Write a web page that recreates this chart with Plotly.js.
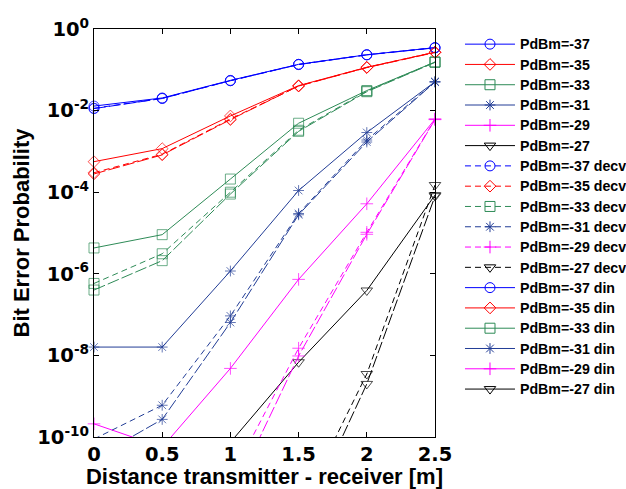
<!DOCTYPE html>
<html>
<head>
<meta charset="utf-8">
<script src="https://cdn.plot.ly/plotly-3.0.1.min.js"></script>
<style>html,body{margin:0;padding:0;background:#fff;}</style>
</head>
<body>
<div id="chart" style="width:626px;height:489px;"></div>
<script>
// ---- data ----
const distance = [0, 0.5, 1, 1.5, 2, 2.5];

const ber37 = [0.0129, 0.0204, 0.055, 0.136, 0.234, 0.349];
const ber35 = [5.6e-4, 1.17e-3, 7.4e-3, 0.041, 0.115, 0.27];
const ber33 = [4.3e-6, 9.1e-6, 2.1e-4, 4.9e-3, 0.031, 0.155];
const ber31 = [1.6e-8, 1.6e-8, 1.17e-6, 1.1e-4, 2.9e-3, 0.051];
const ber29 = [2.1e-10, 5.6e-11, 4.8e-9, 7.3e-7, 5.2e-5, 6.2e-3];
const ber27 = [null, null, 7.4e-11, 6.8e-9, 3.9e-7, 8.5e-5];

const ber37decv = [0.0114, 0.0200, 0.054, 0.136, 0.234, 0.349];
const ber35decv = [3.0e-4, 8.5e-4, 6.2e-3, 0.040, 0.115, 0.27];
const ber33decv = [5.8e-7, 3.1e-6, 1.0e-4, 3.3e-3, 0.030, 0.155];
const ber31decv = [8.9e-11, 6.0e-10, 9.3e-8, 3.0e-5, 1.9e-3, 0.051];
const ber29decv = [null, null, 9.3e-12, 1.5e-8, 1.04e-5, 6.2e-3];
const ber27decv = [null, null, null, 1.4e-12, 3.5e-9, 1.5e-4];

const ber37din = [0.0112, 0.0198, 0.054, 0.134, 0.232, 0.345];
const ber35din = [2.8e-4, 8.2e-4, 6.0e-3, 0.040, 0.113, 0.265];
const ber33din = [4.0e-7, 2.1e-6, 9.0e-5, 3.1e-3, 0.029, 0.152];
const ber31din = [3.0e-11, 2.7e-10, 6.4e-8, 2.8e-5, 1.7e-3, 0.050];
const ber29din = [null, null, 3.0e-12, 9.7e-9, 9.3e-6, 6.0e-3];
const ber27din = [null, null, null, 4.9e-13, 2.0e-9, 8.0e-5];

const seriesNames = ['PdBm=-37', 'PdBm=-35', 'PdBm=-33', 'PdBm=-31', 'PdBm=-29', 'PdBm=-27'];

const xTickVals = [0, 0.5, 1, 1.5, 2, 2.5];
const xTickText = ['0', '0.5', '1', '1.5', '2', '2.5'];
const yTickVals = [1e-10, 1e-8, 1e-6, 1e-4, 1e-2, 1];
const yTickText = ['10<sup>-10</sup>', '10<sup>-8</sup>', '10<sup>-6</sup>', '10<sup>-4</sup>', '10<sup>-2</sup>', '10<sup>0</sup>'];

// ---- styles ----
const colors = ['#0000ff', '#ff0000', '#2e8b57', '#223d96', '#ff00ff', '#000000'];
const symbols = ['circle-open', 'diamond-open', 'square-open', 'asterisk-open', 'cross-thin-open', 'triangle-down-open'];
const symSizes = [10, 9, 10, 9, 9, 10];
const yMin = 1e-10;

const groups = [
  {suffix: '', dash: 'solid', legendDash: 'solid', data: [ber37, ber35, ber33, ber31, ber29, ber27]},
  {suffix: ' decv', dash: '6px,4px', legendDash: '6px,4px', data: [ber37decv, ber35decv, ber33decv, ber31decv, ber29decv, ber27decv]},
  {suffix: ' din', dash: '12px,3px', legendDash: 'solid', data: [ber37din, ber35din, ber33din, ber31din, ber29din, ber27din]}
];

const dataTraces = [];
const legendTraces = [];
groups.forEach(g => {
  g.data.forEach((ys, i) => {
    dataTraces.push({
      x: distance,
      y: ys,
      type: 'scatter',
      mode: 'lines+markers',
      name: seriesNames[i] + g.suffix,
      showlegend: false,
      cliponaxis: false,
      line: {color: colors[i], width: 1, dash: g.dash},
      marker: {
        symbol: symbols[i],
        color: colors[i],
        size: ys.map(v => (v === null || v >= yMin * 0.999) ? symSizes[i] : 0),
        line: {color: colors[i], width: 1}
      }
    });
    // legend entry (same style, no points of its own)
    legendTraces.push({
      x: [null],
      y: [null],
      type: 'scatter',
      mode: 'lines+markers',
      name: '<span style="font-size:14.2px">' + seriesNames[i] + g.suffix + '</span>',
      showlegend: true,
      line: {color: colors[i], width: 1, dash: g.legendDash},
      marker: {symbol: symbols[i], color: colors[i], size: symSizes[i], line: {color: colors[i], width: 1}}
    });
  });
});

const tickFont = {family: 'DejaVu Sans', size: 19.5, color: '#000', weight: 'bold'};
const titleFont = {family: 'Liberation Sans, Arial', size: 22, color: '#000', weight: 'bold'};

const layout = {
  width: 626,
  height: 489,
  margin: {l: 94, r: 191, t: 29, b: 52, pad: 0, autoexpand: false},
  paper_bgcolor: '#fff',
  plot_bgcolor: '#fff',
  showlegend: true,
  xaxis: {
    range: [0, 2.5],
    tickvals: xTickVals,
    ticktext: xTickText,
    ticks: 'inside',
    ticklen: 5,
    tickcolor: '#000',
    showline: true,
    linecolor: '#000',
    linewidth: 1,
    mirror: 'ticks',
    showgrid: false,
    zeroline: false,
    automargin: false,
    tickfont: tickFont,
    title: {text: 'Distance transmitter - receiver [m]', font: titleFont, standoff: 4}
  },
  yaxis: {
    type: 'log',
    range: [-10, 0],
    tickvals: yTickVals,
    ticktext: yTickText,
    ticks: 'inside',
    ticklen: 5,
    tickcolor: '#000',
    showline: true,
    linecolor: '#000',
    linewidth: 1,
    mirror: 'ticks',
    showgrid: false,
    zeroline: false,
    automargin: false,
    tickfont: tickFont,
    title: {text: 'Bit Error Probability', font: titleFont, standoff: 1}
  },
  legend: {
    x: 1.0733,
    xanchor: 'left',
    y: 1,
    yanchor: 'top',
    itemwidth: 50,
    font: {family: 'Liberation Sans, Arial', size: 13.3, color: '#000', weight: 'bold'},
    bgcolor: 'rgba(0,0,0,0)',
    borderwidth: 0,
    tracegroupgap: 0
  }
};

Plotly.newPlot('chart', dataTraces.concat(legendTraces), layout, {displayModeBar: false, staticPlot: true});
</script>
</body>
</html>
